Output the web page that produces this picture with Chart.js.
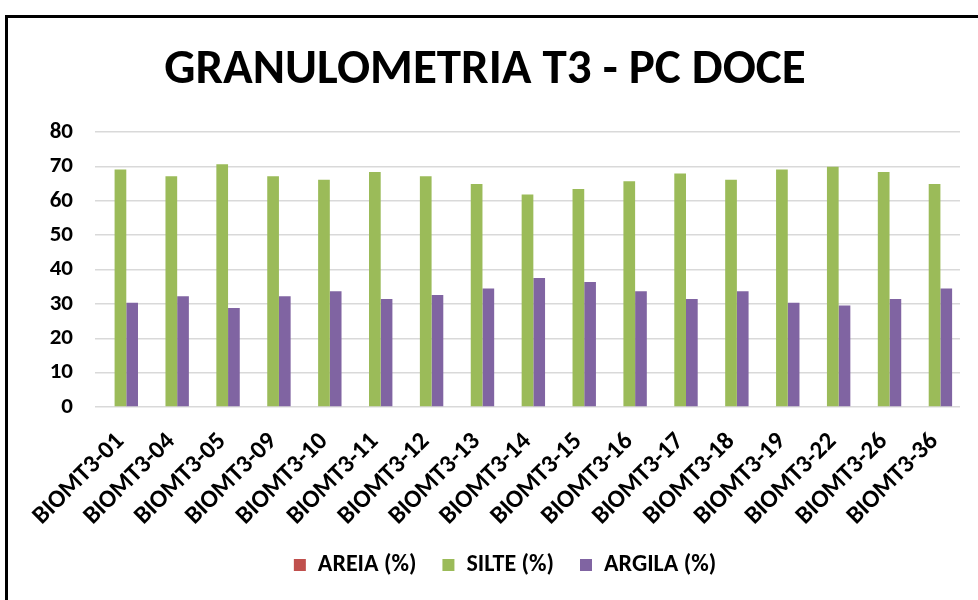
<!DOCTYPE html>
<html>
<head>
<meta charset="utf-8">
<script src="https://cdn.jsdelivr.net/npm/chart.js@4.4.1/dist/chart.umd.min.js"></script>
<style>
    html, body { margin: 0; padding: 0; background: #fff; overflow: hidden; }
    #wrap { position: relative; width: 978px; height: 600px; }
    #frame { position: absolute; left: 5px; top: 15px; width: 1000px; height: 640px; border: 3px solid #000; }
    #chart { position: absolute; left: 0; top: 0; }
</style>
</head>
<body>
<div id="wrap">
    <div id="frame"></div>
    <canvas id="chart" width="978" height="600"></canvas>
</div>
<script>
// sample names along the x axis
var amostras = ["BIOMT3-01", "BIOMT3-04", "BIOMT3-05", "BIOMT3-09", "BIOMT3-10", "BIOMT3-11",
    "BIOMT3-12", "BIOMT3-13", "BIOMT3-14", "BIOMT3-15", "BIOMT3-16", "BIOMT3-17",
    "BIOMT3-18", "BIOMT3-19", "BIOMT3-22", "BIOMT3-26", "BIOMT3-36"];

// values (%)
var areia = [0, 0, 0, 0, 0, 0, 0, 0, 0, 0, 0, 0, 0, 0, 0, 0, 0];
var silte = [69.1, 67.1, 70.6, 67.1, 66.1, 68.4, 67.1, 64.9, 61.8, 63.4, 65.7, 67.9, 66.1, 69.1, 69.9, 68.4, 64.9];
var argila = [30.3, 32.2, 28.8, 32.2, 33.7, 31.4, 32.6, 34.5, 37.5, 36.4, 33.7, 31.4, 33.7, 30.3, 29.5, 31.4, 34.5];

var yTicks = [0, 10, 20, 30, 40, 50, 60, 70, 80];

let fonte = "Carlito, Calibri, 'Liberation Sans', sans-serif";

// legend items need wide horizontal spacing but a short box,
// and the legend sits a bit right of the canvas centre
let legendTweak = {
    id: 'legendTweak',
    beforeLayout: function (chart) {
        let lg = chart.legend;
        if (lg && !lg._patched) {
            let fit = lg.fit;
            lg.fit = function () {
                fit.call(this);
                this.height = 73;
            };
            let draw = lg.draw;
            lg.draw = function () {
                this.ctx.save();
                this.ctx.translate(20, 0);
                draw.call(this);
                this.ctx.restore();
            };
            lg._patched = true;
        }
    }
};

let ctx = document.getElementById('chart');

new Chart(ctx, {
    type: 'bar',
    data: {
        labels: amostras,
        datasets: [{
            label: 'AREIA (%)',
            data: areia,
            backgroundColor: '#C0504D'
        }, {
            label: 'SILTE (%)',
            data: silte,
            backgroundColor: '#9BBB59'
        }, {
            label: 'ARGILA (%)',
            data: argila,
            backgroundColor: '#8064A2'
        }]
    },
    plugins: [legendTweak],
    options: {
        responsive: false,
        animation: false,
        layout: {
            padding: { left: 10, right: 18, top: 0, bottom: 0 }
        },
        datasets: {
            bar: { categoryPercentage: 0.69, barPercentage: 1.0 }
        },
        plugins: {
            title: {
                display: true,
                text: 'GRANULOMETRIA T3 - PC DOCE',
                color: '#000',
                font: { family: fonte, size: 49, weight: 'bold', lineHeight: 1.2 },
                padding: { top: 41, bottom: 32.2 }
            },
            legend: {
                position: 'bottom',
                labels: {
                    color: '#000',
                    font: { family: fonte, size: 24, weight: 'bold' },
                    boxWidth: 12,
                    boxHeight: 12,
                    padding: 26
                }
            },
            tooltip: { enabled: false }
        },
        scales: {
            x: {
                grid: { display: false },
                border: { display: false },
                ticks: {
                    color: '#000',
                    font: { family: fonte, size: 25, weight: 'bold' },
                    minRotation: 45,
                    maxRotation: 45,
                    autoSkip: false,
                    padding: 12
                },
                afterFit: function (scale) {
                    scale.height = 120;
                }
            },
            y: {
                min: 0,
                max: 80,
                grid: { color: '#D9D9D9', lineWidth: 1.5, drawTicks: false },
                border: { display: false },
                afterBuildTicks: function (scale) {
                    scale.ticks = yTicks.map(function (v) { return { value: v }; });
                },
                ticks: {
                    color: '#000',
                    font: { family: fonte, size: 23, weight: 'bold' },
                    padding: 22
                },
                afterFit: function (scale) {
                    scale.width = 85;
                }
            }
        }
    }
});
</script>
</body>
</html>
